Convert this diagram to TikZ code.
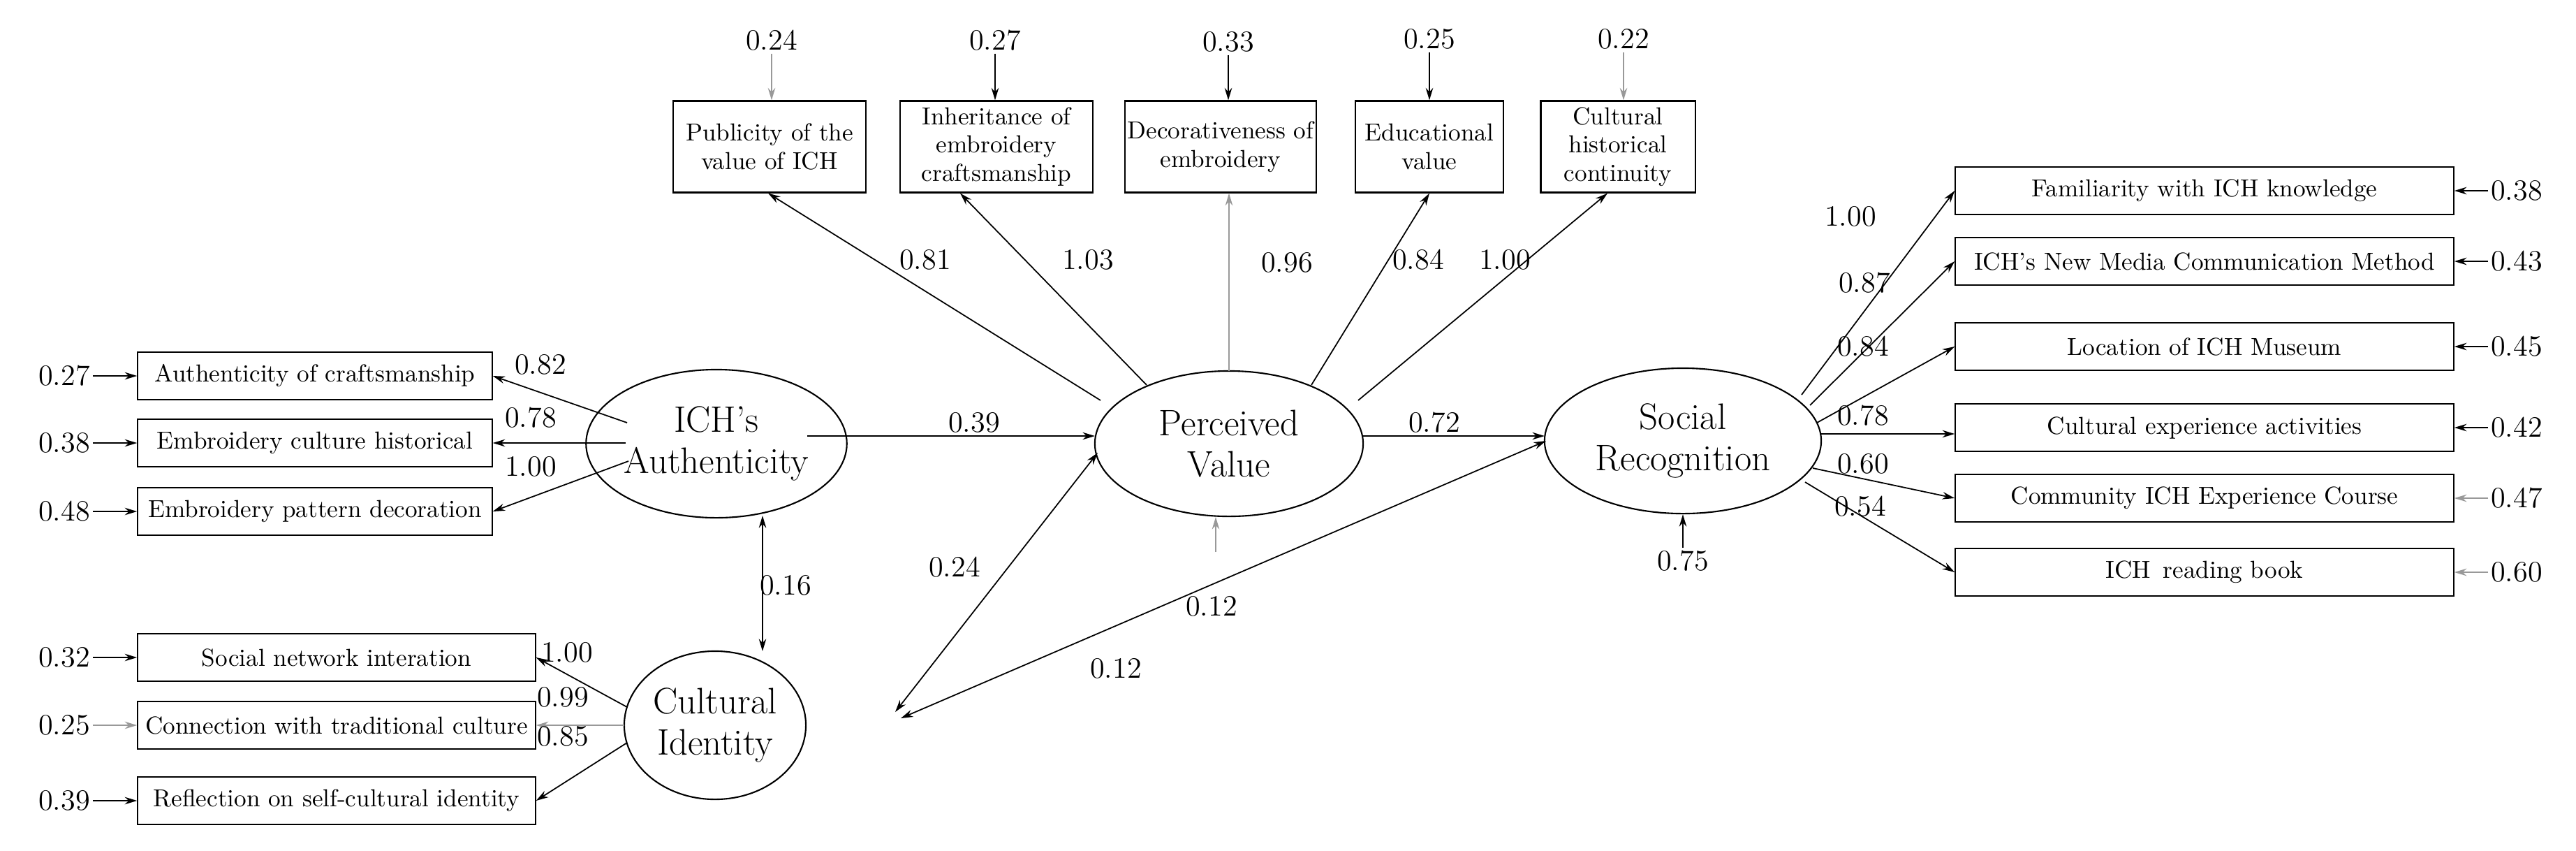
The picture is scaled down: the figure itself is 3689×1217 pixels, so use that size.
\documentclass[tikz,border=0pt]{standalone}
\usetikzlibrary{arrows.meta,shapes.geometric,calc}
\begin{document}
\begin{tikzpicture}[x=0.01cm,y=-0.01cm,
  box/.style={draw,line width=0.6pt,minimum height=0.68cm,inner sep=1pt,font=\fontsize{10}{11}\selectfont,align=center},
  tbox/.style={draw,line width=0.6pt,minimum height=1.31cm,inner sep=1pt,font=\fontsize{10}{11.5}\selectfont,align=center},
  lat/.style={draw,ellipse,line width=0.6pt,inner sep=0pt,font=\fontsize{15}{17}\selectfont,align=center},
  num/.style={font=\fontsize{12}{14}\selectfont,inner sep=1pt},
  arr/.style={-{Stealth[length=5pt,width=3pt]},line width=0.5pt},
  darr/.style={{Stealth[length=5pt,width=3pt]}-{Stealth[length=5pt,width=3pt]},line width=0.5pt},
  gr/.style={draw=black!40}]
\useasboundingbox (0,0) rectangle (3689,1217);
% latent
\node[lat,minimum width=2.6cm,minimum height=2.12cm] (A) at (1026,635) {ICH's\\Authenticity};
\node[lat,minimum width=3.84cm,minimum height=2.08cm] (P) at (1760,635) {Perceived\\Value};
\node[lat,minimum width=3.96cm,minimum height=2.08cm] (S) at (2410,631) {Social\\Recognition};
\node[lat,minimum width=2.6cm,minimum height=2.12cm] (C) at (1024,1038) {Cultural\\Identity};
% left boxes
\node[box,minimum width=5.07cm] (a1) at (451,538) {Authenticity of craftsmanship};
\node[box,minimum width=5.07cm] (a2) at (451,634) {Embroidery culture historical};
\node[box,minimum width=5.07cm] (a3) at (451,732) {Embroidery pattern decoration};
\node[box,minimum width=5.69cm] (c1) at (482,941) {Social network interation};
\node[box,minimum width=5.69cm] (c2) at (482,1038) {Connection with traditional culture};
\node[box,minimum width=5.69cm] (c3) at (482,1146) {Reflection on self-cultural identity};
\node[num] (ea1) at (92,538) {0.27};
\node[num] (ea2) at (92,634) {0.38};
\node[num] (ea3) at (92,732) {0.48};
\node[num] (ec1) at (92,941) {0.32};
\node[num] (ec2) at (92,1038) {0.25};
\node[num] (ec3) at (92,1146) {0.39};
\draw[arr] (ea1) -- (a1);
\draw[arr] (ea2) -- (a2);
\draw[arr] (ea3) -- (a3);
\draw[arr] (ec1) -- (c1);
\draw[arr,gr] (ec2) -- (c2);
\draw[arr] (ec3) -- (c3);
\coordinate (A1) at (898,605);
\coordinate (A2) at (896,634);
\coordinate (A3) at (900,660);
\draw[arr] (A1) -- (a1.east);
\draw[arr] (A2) -- (a2.east);
\draw[arr] (A3) -- (a3.east);
\coordinate (C1) at (898,1012);
\coordinate (C2) at (894,1038);
\coordinate (C3) at (898,1063);
\draw[arr] (C1) -- (c1.east);
\draw[arr,gr] (C2) -- (c2.east);
\draw[arr] (C3) -- (c3.east);
\node[num] at (774,522) {0.82};
\node[num] at (760,598) {0.78};
\node[num] at (760,668) {1.00};
\node[num] at (812,934) {1.00};
\node[num] at (806,998) {0.99};
\node[num] at (806,1054) {0.85};
% top boxes
\node[tbox,minimum width=2.75cm] (t1) at (1102,210) {Publicity of the\\value of ICH};
\node[tbox,minimum width=2.75cm] (t2) at (1427,210) {Inheritance of\\embroidery\\craftsmanship};
\node[tbox,minimum width=2.68cm] (t3) at (1748,210) {Decorativeness of\\embroidery};
\node[tbox,minimum width=2.12cm] (t4) at (2047,210) {Educational\\value};
\node[tbox,minimum width=2.21cm] (t5) at (2317,210) {Cultural\\historical\\continuity};
\node[num] (et1) at (1105,58) {0.24};
\node[num] (et2) at (1425,58) {0.27};
\node[num] (et3) at (1759,60) {0.33};
\node[num] (et4) at (2047,56) {0.25};
\node[num] (et5) at (2325,56) {0.22};
\draw[arr,gr] (et1) -- (et1|-t1.north);
\draw[arr] (et2) -- (et2|-t2.north);
\draw[arr] (et3) -- (et3|-t3.north);
\draw[arr] (et4) -- (et4|-t4.north);
\draw[arr,gr] (et5) -- (et5|-t5.north);
\coordinate (P1) at (1576,573);
\coordinate (P2) at (1642,551);
\coordinate (P3) at (1760,531);
\coordinate (P4) at (1878,551);
\coordinate (P5) at (1945,573);
\draw[arr] (P1) -- ($(t1.south)+(-2,0)$);
\draw[arr] (P2) -- ($(t2.south)+(-52,0)$);
\draw[arr,gr] (P3) -- (P3|-t3.south);
\draw[arr] (P4) -- (t4.south);
\draw[arr] (P5) -- ($(t5.south)+(-15,0)$);
\node[num] at (1325,372) {0.81};
\node[num] at (1558,372) {1.03};
\node[num] at (1843,376) {0.96};
\node[num] at (2031,372) {0.84};
\node[num] at (2155,372) {1.00};
% right boxes
\node[box,minimum width=7.13cm] (r1) at (3157,273) {Familiarity with ICH knowledge};
\node[box,minimum width=7.13cm] (r2) at (3157,374) {ICH's New Media Communication Method};
\node[box,minimum width=7.13cm] (r3) at (3157,496) {Location of ICH Museum};
\node[box,minimum width=7.13cm] (r4) at (3157,612) {Cultural experience activities};
\node[box,minimum width=7.13cm] (r5) at (3157,713) {Community ICH Experience Course};
\node[box,minimum width=7.13cm] (r6) at (3157,819) {ICH\enspace reading book};
\node[num] (er1) at (3604,273) {0.38};
\node[num] (er2) at (3604,374) {0.43};
\node[num] (er3) at (3604,496) {0.45};
\node[num] (er4) at (3604,612) {0.42};
\node[num] (er5) at (3604,713) {0.47};
\node[num] (er6) at (3604,819) {0.60};
\draw[arr] (er1) -- (r1);
\draw[arr] (er2) -- (r2);
\draw[arr] (er3) -- (r3);
\draw[arr] (er4) -- (r4);
\draw[arr,gr] (er5) -- (r5);
\draw[arr,gr] (er6) -- (r6);
\coordinate (S1) at (2580,565);
\coordinate (S2) at (2592,580);
\coordinate (S3) at (2602,605);
\coordinate (S4) at (2607,621);
\coordinate (S5) at (2596,670);
\coordinate (S6) at (2585,690);
\draw[arr] (S1) -- (r1.west);
\draw[arr] (S2) -- (r2.west);
\draw[arr] (S3) -- (r3.west);
\draw[arr] (S4) -- (S4-|r4.west);
\draw[arr] (S5) -- (r5.west);
\draw[arr] (S6) -- (r6.west);
\node[num] at (2650,310) {1.00};
\node[num] at (2670,405) {0.87};
\node[num] at (2668,496) {0.84};
\node[num] at (2668,595) {0.78};
\node[num] at (2668,664) {0.60};
\node[num] at (2664,725) {0.54};
% structural
\coordinate (AP1) at (1156,624);
\coordinate (AP2) at (1568,624);
\coordinate (PS1) at (1952,624);
\coordinate (PS2) at (2212,624);
\draw[arr] (AP1) -- (AP2);
\draw[arr] (PS1) -- (PS2);
\node[num] at (1395,605) {0.39};
\node[num] at (2054,605) {0.72};
\coordinate (CA) at (1092,932);
\coordinate (AC) at (1092,738);
\draw[darr] (CA) -- (AC);
\node[num] at (1125,838) {0.16};
\coordinate (CP) at (1282,1019);
\coordinate (PC) at (1572,648);
\draw[darr] (CP) -- (PC);
\node[num] at (1367,812) {0.24};
\coordinate (CS) at (1290,1028);
\coordinate (SC) at (2214,631);
\draw[darr] (CS) -- (SC);
\node[num] at (1598,957) {0.12};
\node[num] (pe) at (1735,868) {0.12};
\coordinate (pe0) at (1741,790);
\coordinate (pe1) at (1741,740);
\draw[arr,gr] (pe0) -- (pe1);
\node[num] (se) at (2410,803) {0.75};
\draw[arr] (se) -- (S);
\end{tikzpicture}
\end{document}
